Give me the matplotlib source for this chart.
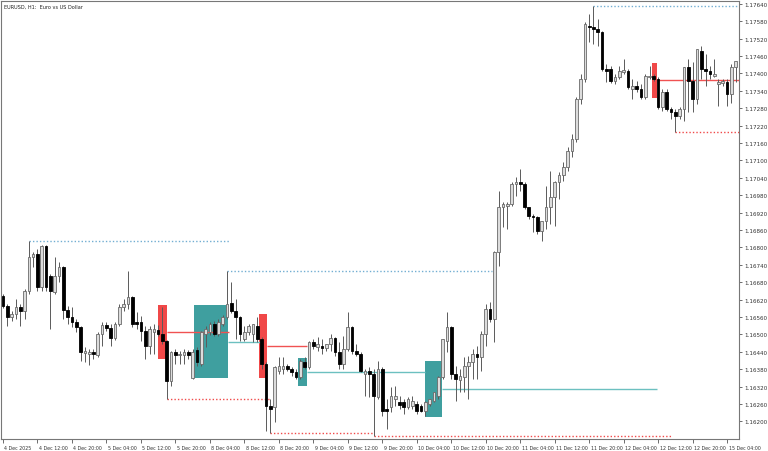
import numpy as np
import matplotlib
matplotlib.use('Agg')
from matplotlib import pyplot as plt
from matplotlib.patches import Rectangle
from matplotlib.transforms import ScaledTranslation

# EURUSD H1 candles (4 Dec 04:00 .. 15 Dec 06:00)
opens = [1.16632, 1.16598, 1.16560, 1.16570, 1.16594, 1.16581, 1.16650, 1.16767, 1.16777, 1.16664,
         1.16805, 1.16701, 1.16646, 1.16701, 1.16732, 1.16584, 1.16560, 1.16543, 1.16525, 1.16436,
         1.16432, 1.16439, 1.16429, 1.16501, 1.16532, 1.16522, 1.16487, 1.16536, 1.16594, 1.16605,
         1.16629, 1.16543, 1.16543, 1.16512, 1.16460, 1.16508, 1.16515, 1.16501, 1.16477, 1.16339,
         1.16439, 1.16429, 1.16429, 1.16439, 1.16349, 1.16446, 1.16398, 1.16501, 1.16508, 1.16536,
         1.16501, 1.16536, 1.16560, 1.16608, 1.16581, 1.16560, 1.16484, 1.16508, 1.16501, 1.16529,
         1.16484, 1.16398, 1.16253, 1.16249, 1.16374, 1.16381, 1.16391, 1.16381, 1.16370, 1.16353,
         1.16405, 1.16387, 1.16474, 1.16456, 1.16460, 1.16453, 1.16467, 1.16487, 1.16439, 1.16398,
         1.16450, 1.16525, 1.16443, 1.16432, 1.16363, 1.16374, 1.16363, 1.16284, 1.16381, 1.16243,
         1.16249, 1.16277, 1.16267, 1.16267, 1.16249, 1.16253, 1.16260, 1.16253, 1.16236, 1.16260,
         1.16270, 1.16287, 1.16353, 1.16477, 1.16525, 1.16363, 1.16343, 1.16353, 1.16391, 1.16405,
         1.16432, 1.16422, 1.16501, 1.16588, 1.16553, 1.16784, 1.16939, 1.16943, 1.16950, 1.17019,
         1.17026, 1.17019, 1.16939, 1.16908, 1.16905, 1.16857, 1.16891, 1.16939, 1.16974, 1.17026,
         1.17050, 1.17077, 1.17133, 1.17174, 1.17312, 1.17381, 1.17564, 1.17560, 1.17554, 1.17543,
         1.17416, 1.17416, 1.17374, 1.17388, 1.17405, 1.17409, 1.17347, 1.17357, 1.17347, 1.17319,
         1.17388, 1.17391, 1.17381, 1.17284, 1.17336, 1.17278, 1.17267, 1.17253, 1.17278, 1.17422,
         1.17374, 1.17312, 1.17478, 1.17416, 1.17409, 1.17391, 1.17364, 1.17367, 1.17371, 1.17329,
         1.17422]
highs = [1.16639, 1.16605, 1.16581, 1.16622, 1.16605, 1.16657, 1.16822, 1.16784, 1.16795, 1.16808,
         1.16808, 1.16708, 1.16767, 1.16750, 1.16736, 1.16598, 1.16594, 1.16553, 1.16529, 1.16456,
         1.16450, 1.16450, 1.16508, 1.16543, 1.16543, 1.16536, 1.16543, 1.16605, 1.16622, 1.16719,
         1.16632, 1.16577, 1.16563, 1.16529, 1.16529, 1.16536, 1.16532, 1.16594, 1.16481, 1.16443,
         1.16450, 1.16443, 1.16450, 1.16446, 1.16450, 1.16456, 1.16512, 1.16529, 1.16543, 1.16546,
         1.16553, 1.16567, 1.16719, 1.16681, 1.16622, 1.16563, 1.16529, 1.16536, 1.16536, 1.16560,
         1.16491, 1.16405, 1.16277, 1.16391, 1.16422, 1.16422, 1.16398, 1.16387, 1.16381, 1.16415,
         1.16422, 1.16477, 1.16484, 1.16491, 1.16484, 1.16467, 1.16501, 1.16491, 1.16474, 1.16494,
         1.16577, 1.16529, 1.16467, 1.16439, 1.16381, 1.16387, 1.16381, 1.16408, 1.16387, 1.16277,
         1.16318, 1.16322, 1.16287, 1.16277, 1.16284, 1.16287, 1.16270, 1.16260, 1.16270, 1.16277,
         1.16302, 1.16356, 1.16484, 1.16577, 1.16529, 1.16391, 1.16381, 1.16422, 1.16425, 1.16450,
         1.16460, 1.16512, 1.16605, 1.16612, 1.16788, 1.16995, 1.16957, 1.16957, 1.17026, 1.17043,
         1.17071, 1.17026, 1.16939, 1.16915, 1.16908, 1.16891, 1.17012, 1.17064, 1.17029, 1.17060,
         1.17095, 1.17146, 1.17191, 1.17319, 1.17398, 1.17578, 1.17605, 1.17633, 1.17588, 1.17547,
         1.17433, 1.17426, 1.17398, 1.17426, 1.17450, 1.17416, 1.17381, 1.17374, 1.17364, 1.17398,
         1.17426, 1.17398, 1.17388, 1.17347, 1.17347, 1.17284, 1.17278, 1.17284, 1.17422, 1.17450,
         1.17440, 1.17485, 1.17495, 1.17467, 1.17426, 1.17450, 1.17381, 1.17381, 1.17381, 1.17433,
         1.17443]
lows = [1.16591, 1.16529, 1.16546, 1.16553, 1.16529, 1.16553, 1.16639, 1.16732, 1.16650, 1.16650,
        1.16650, 1.16519, 1.16639, 1.16681, 1.16553, 1.16536, 1.16525, 1.16508, 1.16408, 1.16405,
        1.16394, 1.16415, 1.16422, 1.16460, 1.16512, 1.16460, 1.16481, 1.16529, 1.16581, 1.16588,
        1.16525, 1.16519, 1.16477, 1.16415, 1.16432, 1.16432, 1.16494, 1.16467, 1.16277, 1.16322,
        1.16398, 1.16398, 1.16398, 1.16415, 1.16346, 1.16391, 1.16391, 1.16456, 1.16498, 1.16494,
        1.16494, 1.16529, 1.16553, 1.16574, 1.16484, 1.16477, 1.16477, 1.16498, 1.16474, 1.16474,
        1.16381, 1.16167, 1.16160, 1.16198, 1.16363, 1.16363, 1.16374, 1.16356, 1.16346, 1.16346,
        1.16381, 1.16381, 1.16450, 1.16443, 1.16432, 1.16443, 1.16443, 1.16425, 1.16381, 1.16381,
        1.16443, 1.16432, 1.16425, 1.16370, 1.16287, 1.16284, 1.16149, 1.16277, 1.16218, 1.16174,
        1.16232, 1.16253, 1.16243, 1.16225, 1.16243, 1.16243, 1.16225, 1.16232, 1.16218, 1.16253,
        1.16267, 1.16277, 1.16346, 1.16439, 1.16346, 1.16270, 1.16302, 1.16302, 1.16277, 1.16346,
        1.16346, 1.16374, 1.16460, 1.16543, 1.16474, 1.16736, 1.16870, 1.16864, 1.16943, 1.16977,
        1.16995, 1.16933, 1.16898, 1.16853, 1.16846, 1.16822, 1.16864, 1.16881, 1.16874, 1.16967,
        1.17030, 1.17064, 1.17112, 1.17164, 1.17295, 1.17371, 1.17509, 1.17502, 1.17495, 1.17409,
        1.17371, 1.17367, 1.17364, 1.17381, 1.17398, 1.17347, 1.17312, 1.17336, 1.17312, 1.17312,
        1.17381, 1.17374, 1.17278, 1.17271, 1.17271, 1.17243, 1.17198, 1.17243, 1.17236, 1.17267,
        1.17267, 1.17295, 1.17381, 1.17357, 1.17381, 1.17388, 1.17288, 1.17357, 1.17288, 1.17298,
        1.17371]
closes = [1.16598, 1.16560, 1.16570, 1.16594, 1.16581, 1.16650, 1.16767, 1.16777, 1.16664, 1.16805,
          1.16664, 1.16650, 1.16701, 1.16732, 1.16584, 1.16560, 1.16543, 1.16525, 1.16439, 1.16443,
          1.16439, 1.16432, 1.16501, 1.16532, 1.16522, 1.16487, 1.16536, 1.16594, 1.16605, 1.16629,
          1.16536, 1.16536, 1.16512, 1.16460, 1.16519, 1.16519, 1.16501, 1.16477, 1.16339, 1.16439,
          1.16429, 1.16432, 1.16439, 1.16429, 1.16439, 1.16405, 1.16508, 1.16519, 1.16536, 1.16501,
          1.16543, 1.16560, 1.16605, 1.16581, 1.16560, 1.16501, 1.16508, 1.16529, 1.16536, 1.16484,
          1.16398, 1.16253, 1.16243, 1.16387, 1.16391, 1.16391, 1.16381, 1.16370, 1.16353, 1.16408,
          1.16387, 1.16474, 1.16460, 1.16467, 1.16453, 1.16467, 1.16487, 1.16439, 1.16398, 1.16450,
          1.16525, 1.16443, 1.16432, 1.16374, 1.16374, 1.16363, 1.16287, 1.16381, 1.16236, 1.16236,
          1.16287, 1.16287, 1.16256, 1.16249, 1.16277, 1.16270, 1.16236, 1.16236, 1.16267, 1.16277,
          1.16302, 1.16353, 1.16484, 1.16525, 1.16363, 1.16346, 1.16356, 1.16391, 1.16405, 1.16432,
          1.16422, 1.16501, 1.16588, 1.16553, 1.16784, 1.16939, 1.16950, 1.16950, 1.17019, 1.17026,
          1.17019, 1.16939, 1.16908, 1.16905, 1.16857, 1.16891, 1.16939, 1.16974, 1.17026, 1.17050,
          1.17077, 1.17133, 1.17174, 1.17312, 1.17381, 1.17571, 1.17560, 1.17554, 1.17543, 1.17416,
          1.17409, 1.17374, 1.17388, 1.17409, 1.17412, 1.17353, 1.17357, 1.17347, 1.17319, 1.17391,
          1.17391, 1.17381, 1.17284, 1.17336, 1.17278, 1.17267, 1.17253, 1.17278, 1.17422, 1.17374,
          1.17312, 1.17485, 1.17416, 1.17409, 1.17398, 1.17398, 1.17371, 1.17374, 1.17329, 1.17422,
          1.17443]

time_labels = ['4 Dec 2025', '4 Dec 12:00', '4 Dec 20:00', '5 Dec 04:00', '5 Dec 12:00',
               '5 Dec 20:00', '8 Dec 04:00', '8 Dec 12:00', '8 Dec 20:00', '9 Dec 04:00',
               '9 Dec 12:00', '9 Dec 20:00', '10 Dec 04:00', '10 Dec 12:00', '10 Dec 20:00',
               '11 Dec 04:00', '11 Dec 12:00', '11 Dec 20:00', '12 Dec 04:00', '12 Dec 12:00',
               '12 Dec 20:00', '15 Dec 04:00']
time_label_bars = list(range(0, 169, 8))
price_ticks = [1.16200 + 0.0006 * k for k in range(25)]

# order-block zones (bar index range, price range)
zone_start = [35.9, 44.3, 59.4, 68.4, 97.9, 150.6]
zone_end = [38.0, 52.2, 61.3, 70.5, 101.9, 151.8]
zone_top = [1.16601, 1.16601, 1.16570, 1.16418, 1.16408, 1.17436]
zone_bottom = [1.16415, 1.16349, 1.16349, 1.16322, 1.16215, 1.17315]
zone_kind = ['bear', 'bull', 'bear', 'bull', 'bull', 'bear']

# mid lines coming out of the zones
mid_price = [1.16509, 1.16474, 1.16460, 1.16371, 1.16311, 1.17378]
mid_start = [38.0, 52.2, 61.3, 70.5, 101.9, 151.8]
mid_end = [52.4, 60.1, 70.5, 97.9, 151.8, 170.8]

# swing high / low levels
swing_price = [1.16822, 1.16719, 1.17633, 1.16277, 1.16160, 1.16149, 1.17198]
swing_start = [6, 52, 137, 38, 62, 86, 156]
swing_end = [52.4, 113.5, 170.8, 62, 86, 155.2, 170.8]
swing_kind = ['high', 'high', 'high', 'low', 'low', 'low', 'low']

o = np.array(opens)
h = np.array(highs)
l = np.array(lows)
c = np.array(closes)
x = np.arange(len(o))
up = c >= o

fig = plt.figure(figsize=(7.68, 4.52), dpi=100)
ax = fig.add_axes([1 / 768, 12 / 452, 738 / 768, 438 / 452])

zone_col = {'bull': '#3f9f9f', 'bear': '#f04848'}
line_col = {'bull': '#6cc0c0', 'bear': '#f05252'}
swing_col = {'high': '#72aed2', 'low': '#f04a4a'}

for s, e, t, b, k in zip(zone_start, zone_end, zone_top, zone_bottom, zone_kind):
    ax.add_patch(Rectangle((s, b), e - s, t - b, facecolor=zone_col[k], edgecolor='none', zorder=1))

for p, s, e, k in zip(mid_price, mid_start, mid_end, zone_kind):
    ax.hlines(p, s, e, color=line_col[k], lw=1.0, zorder=2)

for p, s, e, k in zip(swing_price, swing_start, swing_end, swing_kind):
    ax.hlines(p, s, e, color=swing_col[k], lw=1.0, linestyles=(0, (1, 1.5)), zorder=2)

# candles
ax.vlines(x, l, h, color='#5a5a5a', lw=0.7, zorder=3)
body = np.maximum(np.abs(c - o), 0.000012)
bottom = np.minimum(o, c)
ax.bar(x[up], body[up], bottom=bottom[up], width=0.62, color='#dcdcdc',
       edgecolor='#6a6a6a', linewidth=0.6, zorder=4)
ax.bar(x[~up], body[~up], bottom=bottom[~up], width=0.62, color='black',
       edgecolor='black', linewidth=0.6, zorder=4)

ax.set_xlim(-0.46, 170.76)
ax.set_ylim(1.16139, 1.17650)

ax.yaxis.tick_right()
ax.set_yticks(price_ticks)
ax.set_yticklabels(['%.5f' % p for p in price_ticks])
ax.set_xticks(time_label_bars)
ax.set_xticklabels(time_labels, ha='left')
ax.tick_params(axis='y', direction='out', length=2.5, width=0.6, colors='#555555',
               labelsize=4.1, pad=1.0, labelcolor='#333333')
ax.tick_params(axis='x', direction='out', length=3, width=0.6, colors='#555555',
               labelsize=3.4, pad=1.5, labelcolor='#333333')
for lab in ax.get_xticklabels():
    lab.set_transform(lab.get_transform() + ScaledTranslation(1.5 / 100, 0, fig.dpi_scale_trans))

for sp in ax.spines.values():
    sp.set_color('#777777')
    sp.set_linewidth(0.8)

ax.text(0.004, 0.993, 'EURUSD, H1:  Euro vs US Dollar', transform=ax.transAxes,
        fontsize=3.6, va='top', ha='left', color='#222222')

fig.savefig('out.png', dpi=100)
